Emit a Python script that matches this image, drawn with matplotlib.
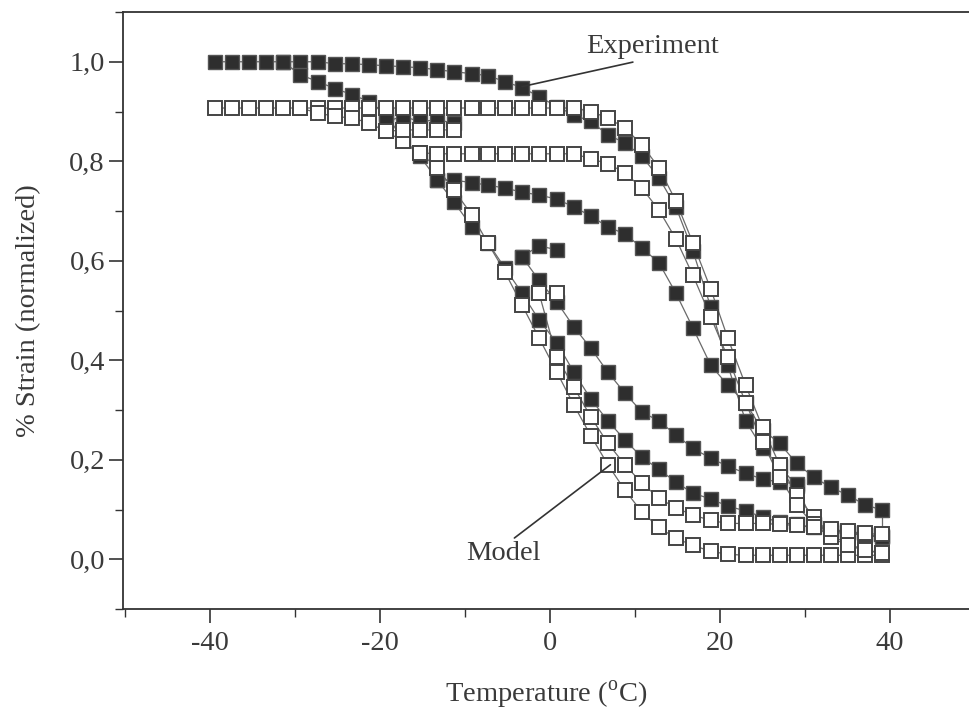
import matplotlib
matplotlib.use('Agg')
import matplotlib.pyplot as plt
from matplotlib.ticker import MultipleLocator, FuncFormatter

plt.rcParams['font.family'] = ['Liberation Serif', 'DejaVu Serif']
plt.rcParams['mathtext.fontset'] = 'custom'
plt.rcParams['mathtext.rm'] = 'Liberation Serif'

# temperature grid (deg C), one point every ~2 degrees
T = [-39.4, -37.4, -35.4, -33.4, -31.4, -29.4, -27.3, -25.3, -23.3, -21.3,
     -19.3, -17.3, -15.3, -13.3, -11.3, -9.2, -7.3, -5.3, -3.3, -1.3,
     0.8, 2.8, 4.8, 6.8, 8.8, 10.8, 12.8, 14.8, 16.8, 18.9,
     20.9, 23.0, 25.0, 27.0, 29.0, 31.0, 33.0, 35.0, 37.0, 39.0]

# experiment (filled squares): (start index in T, strain values)
exp_top = (0, [1.0, 1.0, 1.0, 1.0, 1.0, 1.0, 1.0, 0.996, 0.996, 0.994,
               0.992, 0.99, 0.988, 0.984, 0.98, 0.976, 0.972, 0.96, 0.948, 0.93,
               0.91, 0.893, 0.88, 0.853, 0.837, 0.81, 0.767, 0.708, 0.62, 0.507,
               0.39, 0.278, 0.223, 0.187, 0.148, 0.07, 0.058, 0.054, 0.05, 0.046])
exp_main = (4, [1.0, 0.974, 0.96, 0.946, 0.934, 0.92, 0.895, 0.843, 0.81, 0.763,
                0.718, 0.668, 0.636, 0.585, 0.535, 0.481, 0.435, 0.376, 0.322, 0.278,
                0.24, 0.205, 0.181, 0.155, 0.133, 0.121, 0.107, 0.097, 0.085, 0.074,
                0.07, 0.064, 0.054, 0.052, 0.048, 0.044])
exp_stub1 = (10, [0.88, 0.89, 0.88, 0.883, 0.877])
exp_mid = (13, [0.763, 0.762, 0.757, 0.752, 0.746, 0.738, 0.732, 0.724, 0.708, 0.69,
                0.668, 0.654, 0.626, 0.596, 0.535, 0.465, 0.39, 0.35, 0.314, 0.26,
                0.233, 0.193, 0.165, 0.145, 0.129, 0.11, 0.099])
exp_stub2 = (18, [0.608, 0.63, 0.622])
exp_low = (18, [0.608, 0.561, 0.517, 0.467, 0.424, 0.376, 0.334, 0.296, 0.278, 0.25,
                0.223, 0.203, 0.187, 0.173, 0.161, 0.155, 0.152])

# model (open squares)
mod_top = (0, [0.907] * 22 +
           [0.9, 0.887, 0.867, 0.833, 0.787, 0.72, 0.636, 0.543,
            0.445, 0.35, 0.265, 0.19, 0.129, 0.085, 0.05, 0.03, 0.02, 0.012])
mod_main = (5, [0.907, 0.897, 0.89, 0.887, 0.877, 0.86, 0.84, 0.817, 0.787, 0.742,
                0.692, 0.635, 0.577, 0.511, 0.445, 0.376, 0.31, 0.248, 0.19, 0.139,
                0.095, 0.064, 0.042, 0.028, 0.016, 0.01, 0.008, 0.008, 0.008, 0.008,
                0.008, 0.008, 0.008, 0.008, 0.008])
mod_stub1 = (10, [0.86, 0.863, 0.863, 0.863, 0.863])
mod_mid = (12, [0.817, 0.815, 0.815, 0.815, 0.815, 0.815, 0.815, 0.815, 0.815, 0.815,
                0.805, 0.795, 0.777, 0.746, 0.702, 0.644, 0.571, 0.487, 0.406, 0.315,
                0.235, 0.165, 0.109, 0.07, 0.044, 0.028, 0.018, 0.012])
mod_stub2 = (19, [0.535, 0.535])
mod_low = (19, [0.535, 0.406, 0.346, 0.286, 0.233, 0.19, 0.153, 0.123, 0.103, 0.089,
                0.078, 0.072, 0.072, 0.072, 0.07, 0.068, 0.064, 0.06, 0.056, 0.052, 0.05])

experiment = [exp_top, exp_main, exp_stub1, exp_mid, exp_stub2, exp_low]
model = [mod_top, mod_main, mod_stub1, mod_mid, mod_stub2, mod_low]


def xy(curve):
    start, vals = curve
    return T[start:start + len(vals)], vals


fig = plt.figure(figsize=(9.7, 7.1), dpi=100)
ax = fig.add_axes([123 / 970, 101 / 710, 1 - 123 / 970, 597 / 710])

ink = '#3a3a3a'
fs = 20.5
for c in experiment + model:
    x, y = xy(c)
    ax.plot(x, y, '-', color='#6a6a6a', lw=0.9, zorder=1)
# the last experiment curve drops straight down at the end
ax.plot([T[-1], T[-1]], [exp_mid[1][-1], exp_top[1][-1]], '-', color='#6a6a6a', lw=0.9, zorder=1)

for c in experiment:
    x, y = xy(c)
    ax.plot(x, y, 's', ls='none', ms=10.5, mfc='#2e2e2e', mec='#555555', mew=1.0, zorder=2)
for c in model:
    x, y = xy(c)
    ax.plot(x, y, 's', ls='none', ms=10.5, mfc='white', mec='#444444', mew=1.4, zorder=3)

# annotations
ax.annotate('Experiment', xy=(-3.3, 0.95), xytext=(12.0, 1.03), fontsize=fs, color=ink,
            ha='center', va='center',
            arrowprops=dict(arrowstyle='-', color='#333333', lw=1.2, shrinkA=0, shrinkB=0,
                            relpos=(0.45, 0.0)))
ax.annotate('Model', xy=(7.1, 0.19), xytext=(-5.5, 0.012), fontsize=fs, color=ink,
            ha='center', va='center',
            arrowprops=dict(arrowstyle='-', color='#333333', lw=1.2, shrinkA=0, shrinkB=0,
                            relpos=(0.6, 1.0)))

ax.set_xlim(-50.24, 49.4)
ax.set_ylim(-0.1, 1.1)
ax.xaxis.set_major_locator(MultipleLocator(20))
ax.xaxis.set_minor_locator(MultipleLocator(10))
ax.yaxis.set_major_locator(MultipleLocator(0.2))
ax.yaxis.set_minor_locator(MultipleLocator(0.1))
ax.yaxis.set_major_formatter(FuncFormatter(lambda v, p: f'{v:.1f}'.replace('.', ',')))
ax.xaxis.set_major_formatter(FuncFormatter(lambda v, p: f'{v:.0f}'))
ax.tick_params(which='major', direction='out', length=10, width=1.2, labelsize=fs,
               colors='#333333', labelcolor=ink)
ax.tick_params(axis='y', which='major', pad=3)
ax.tick_params(axis='x', which='major', pad=6)
ax.tick_params(which='minor', direction='out', length=6, width=1.0, colors='#333333')
ax.spines['right'].set_visible(False)
for s in ['left', 'bottom', 'top']:
    ax.spines[s].set_color('#333333')
    ax.spines[s].set_linewidth(1.3)

ax.set_xlabel('Temperature ($^{\\mathrm{o}}$C)', fontsize=fs, color=ink, labelpad=16)
ax.set_ylabel('% Strain (normalized)', fontsize=fs, color=ink, labelpad=20)

fig.savefig('out.png', dpi=100)
